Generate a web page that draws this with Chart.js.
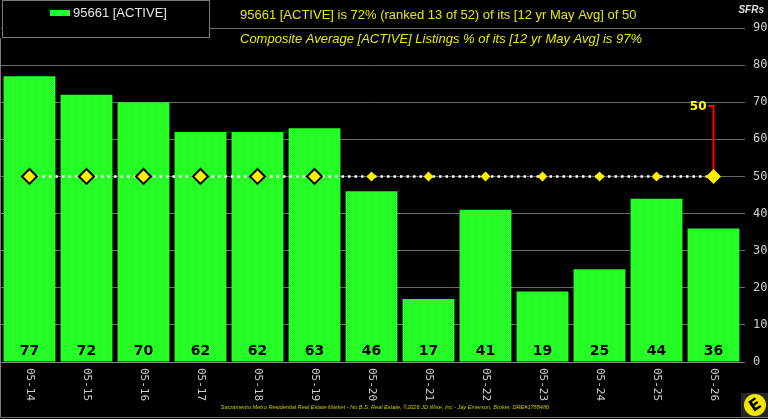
<!DOCTYPE html>
<html>
<head>
<meta charset="utf-8">
<script src="https://cdn.jsdelivr.net/npm/chart.js@4"></script>
<style>
  html, body { margin: 0; padding: 0; background: #000; }
  #chart-wrap { width: 768px; height: 419px; }
</style>
</head>
<body>
<div id="chart-wrap"><canvas id="sfr-chart" width="768" height="419"></canvas></div>
<script>
// data
const periodLabels = ['05-14', '05-15', '05-16', '05-17', '05-18', '05-19', '05-20', '05-21', '05-22', '05-23', '05-24', '05-25', '05-26'];
const activeValues = [77, 72, 70, 62, 62, 63, 46, 17, 41, 19, 25, 44, 36];
const avgValues = [50, 50, 50, 50, 50, 50, 50, 50, 50, 50, 50, 50, 50];
const yTicks = [0, 10, 20, 30, 40, 50, 60, 70, 80, 90];
const legendText = '95661 [ACTIVE]';
const titleLine1 = '95661 [ACTIVE] is 72% (ranked 13 of 52) of its [12 yr May Avg] of 50';
const titleLine2 = 'Composite Average [ACTIVE] Listings % of its [12 yr May Avg] is 97%';
const footerText = 'Sacramento Metro Residential Real Estate Market - No B.S. Real Estate, \u00A92026 JD Wise, Inc - Jay Emerson, Broker, DRE#1788486';
const avgCallout = { label: '50', from: 50, to: 69 };

// green bars have a faint checker texture
function makeGreen() {
    var c = document.createElement('canvas');
    c.width = 2; c.height = 2;
    var g = c.getContext('2d');
    g.fillStyle = '#10ff10';
    g.fillRect(0, 0, 2, 2);
    g.fillStyle = '#3cff3c';
    g.fillRect(0, 0, 1, 1);
    g.fillRect(1, 1, 1, 1);
    return g.createPattern(c, 'repeat');
}
var greenFill = makeGreen();

// bigger outlined diamonds where they sit on top of a bar
var pointSizes = activeValues.map((v, i) => (v > avgValues[i] || i == activeValues.length - 1) ? 7.5 : 5);
var pointBorders = activeValues.map((v, i) => v > avgValues[i] ? 2 : 0);

const decorations = {
    id: 'decorations',
    beforeDatasetsDraw(chart) {
        const ctx = chart.ctx;
        const x = chart.scales.x;
        const y = chart.scales.y;
        const last = periodLabels.length - 1;
        const px = x.getPixelForValue(last);
        const yTop = y.getPixelForValue(avgCallout.to);
        ctx.save();
        ctx.strokeStyle = '#ff0000';
        ctx.lineWidth = 2;
        ctx.beginPath();
        ctx.moveTo(px, y.getPixelForValue(avgCallout.from));
        ctx.lineTo(px, yTop);
        ctx.lineTo(px - 5, yTop);
        ctx.stroke();
        ctx.fillStyle = '#ffff00';
        ctx.font = 'bold 12px "DejaVu Sans"';
        ctx.textAlign = 'right';
        ctx.textBaseline = 'middle';
        ctx.fillText(avgCallout.label, px - 7, yTop + 1);
        ctx.restore();
    },
    afterDatasetsDraw(chart) {
        const ctx = chart.ctx;
        const meta = chart.getDatasetMeta(1);
        const y0 = chart.scales.y.getPixelForValue(0);
        ctx.save();
        ctx.fillStyle = '#000';
        ctx.font = 'bold 14px "DejaVu Sans"';
        ctx.textAlign = 'center';
        ctx.textBaseline = 'middle';
        meta.data.forEach((bar, i) => {
            ctx.fillText(String(activeValues[i]), bar.x, y0 - 11);
        });
        ctx.restore();
    },
    afterDraw(chart) {
        const ctx = chart.ctx;
        const x = chart.scales.x;
        const area = chart.chartArea;
        ctx.save();

        // rotated period labels, reading top to bottom
        ctx.fillStyle = '#cfcfcf';
        ctx.font = '11px "DejaVu Sans Mono"';
        ctx.textAlign = 'left';
        ctx.textBaseline = 'middle';
        periodLabels.forEach((lab, i) => {
            ctx.save();
            ctx.translate(x.getPixelForValue(i), area.bottom + 6);
            ctx.rotate(Math.PI / 2);
            ctx.fillText(lab, 0, 0);
            ctx.restore();
        });

        // legend box
        ctx.fillStyle = '#000';
        ctx.fillRect(2, 1, 207, 37);
        ctx.strokeStyle = '#7a7a7a';
        ctx.lineWidth = 1;
        ctx.strokeRect(2.5, 0.5, 207, 37);
        ctx.fillStyle = greenFill;
        ctx.fillRect(50, 10, 20, 6);
        ctx.fillStyle = '#e6e6e6';
        ctx.font = '13px "Liberation Sans"';
        ctx.textAlign = 'left';
        ctx.textBaseline = 'middle';
        ctx.fillText(legendText, 73, 13);

        // titles
        ctx.fillStyle = '#e8e800';
        ctx.font = '13px "Liberation Sans"';
        ctx.fillText(titleLine1, 240, 15);
        ctx.font = 'italic 13px "Liberation Sans"';
        ctx.fillText(titleLine2, 240, 39);

        // axis caption
        ctx.fillStyle = '#e0e0e0';
        ctx.font = 'bold italic 10px "Liberation Sans"';
        ctx.textAlign = 'right';
        ctx.fillText('SFRs', 764, 10);

        // footer
        ctx.fillStyle = '#c8c800';
        ctx.font = 'italic 5.6px "Liberation Sans"';
        ctx.textAlign = 'center';
        ctx.fillText(footerText, 385, 407);

        // frame
        ctx.strokeStyle = '#7a7a7a';
        ctx.beginPath();
        ctx.moveTo(0.5, 38);
        ctx.lineTo(0.5, 417.5);
        ctx.lineTo(768, 417.5);
        ctx.stroke();

        // logo
        ctx.fillStyle = '#262626';
        ctx.fillRect(741, 393, 27, 24);
        ctx.fillStyle = '#f2e600';
        ctx.beginPath();
        ctx.arc(755, 405, 11, 0, Math.PI * 2);
        ctx.fill();
        ctx.translate(755, 405);
        ctx.rotate(-0.6);
        ctx.fillStyle = '#000';
        ctx.font = 'bold 16px "DejaVu Sans"';
        ctx.textAlign = 'center';
        ctx.textBaseline = 'middle';
        ctx.fillText('E', 0, 1);
        ctx.restore();
    }
};

const data = {
    labels: periodLabels,
    datasets: [{
        type: 'line',
        label: '12 yr May Avg',
        data: avgValues,
        borderColor: '#ffffff',
        borderWidth: 2.5,
        borderDash: [2.5, 4],
        pointStyle: 'rectRot',
        pointRadius: pointSizes,
        pointBackgroundColor: '#ffee00',
        pointBorderColor: '#000',
        pointBorderWidth: pointBorders,
        order: 0,
    }, {
        type: 'bar',
        label: legendText,
        data: activeValues,
        backgroundColor: greenFill,
        borderWidth: 0,
        barPercentage: 0.91,
        categoryPercentage: 1,
        order: 1,
    }]
};

const config = {
    type: 'bar',
    data: data,
    options: {
        responsive: false,
        animation: false,
        layout: {
            autoPadding: false,
            padding: { top: 28, bottom: 57, left: 1, right: 0 }
        },
        plugins: {
            legend: { display: false },
            title: { display: false },
            tooltip: { enabled: false },
        },
        scales: {
            x: {
                offset: true,
                grid: { display: false },
                border: { display: true, color: '#8a8a8a' },
                ticks: { display: false },
                afterFit: (axis) => {
                    axis.height = 0;
                    axis.paddingLeft = 0;
                    axis.paddingRight = 0;
                },
            },
            y: {
                position: 'right',
                min: 0,
                max: 90,
                afterBuildTicks: (axis) => { axis.ticks = yTicks.map(v => ({ value: v })); },
                afterFit: (axis) => {
                    axis.width = 26;
                    axis.paddingTop = 0;
                    axis.paddingBottom = 0;
                },
                grid: { color: '#6a6a6a', tickLength: 3 },
                border: { display: false },
                ticks: {
                    color: '#cfcfcf',
                    padding: 8,
                    font: { family: 'DejaVu Sans Mono', size: 12 },
                },
            },
        }
    },
    plugins: [decorations]
};

new Chart(document.getElementById('sfr-chart'), config);
</script>
</body>
</html>
